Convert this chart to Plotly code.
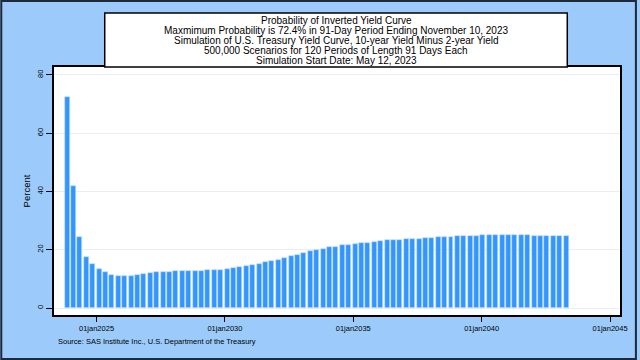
import pandas as pd
import plotly.graph_objects as go

# ---- data ----
period_start = "2023-11-10"   # end date of first plotted 91-day period
period_days = 91
probability = [
    72.4, 41.7, 24.2, 17.5, 15.0, 13.5, 12.3, 11.4, 11.0, 10.85,
    11.0, 11.3, 11.6, 11.9, 12.2, 12.3, 12.45, 12.6, 12.6, 12.7,
    12.7, 12.7, 12.9, 12.9, 13.1, 13.5, 13.7, 14.1, 14.4, 14.75,
    15.1, 15.65, 16.1, 16.6, 17.15, 17.7, 18.3, 18.85, 19.4, 19.9,
    20.35, 20.8, 21.1, 21.5, 21.7, 22.0, 22.2, 22.45, 22.75, 22.97,
    23.2, 23.3, 23.4, 23.55, 23.66, 23.8, 23.95, 24.05, 24.2, 24.35,
    24.46, 24.57, 24.69, 24.8, 24.85, 24.9, 24.95, 25.0, 25.0, 25.0,
    25.0, 24.95, 24.9, 24.85, 24.8, 24.75, 24.7, 24.65, 24.6,
]
period_end = pd.date_range(period_start, periods=len(probability), freq=f"{period_days}D")

tick_dates = ["2025-01-01", "2030-01-01", "2035-01-01", "2040-01-01", "2045-01-01"]
tick_text = ["01jan2025", "01jan2030", "01jan2035", "01jan2040", "01jan2045"]
y_ticks = [0, 20, 40, 60, 80]

title_lines = [
    "Probability of Inverted Yield Curve",
    "Maxmimum Probability is 72.4% in 91-Day Period Ending November 10, 2023",
    "Simulation of U.S. Treasury Yield Curve, 10-year Yield Minus 2-year Yield",
    "500,000 Scenarios for 120 Periods of Length 91 Days Each",
    "Simulation Start Date: May 12, 2023",
]
source_text = "Source: SAS Institute Inc., U.S. Department of the Treasury"

# ---- layout geometry (pixels) ----
W, H = 640, 360
L, R, T, B = 54, 17, 67, 45
pw, ph = W - L - R, H - T - B

def px(x):
    return (x - L) / pw

def py(y):
    return (H - B - y) / ph

FONT = "Liberation Sans, Arial, sans-serif"
BG = "#9ccbfb"

fig = go.Figure()
fig.add_trace(go.Bar(
    x=period_end, y=probability,
    width=71 * 86400000,
    marker=dict(color="#3396ff", line=dict(color="#c9e1fb", width=0.6)),
    hoverinfo="x+y",
))

shapes = [
    # title box
    dict(type="rect", xref="paper", yref="paper",
         x0=px(105), x1=px(570), y0=py(67), y1=py(13),
         fillcolor="white", line=dict(color="black", width=1.5), layer="above"),
    # outer border
    dict(type="rect", xref="paper", yref="paper",
         x0=px(1), x1=px(639), y0=py(359), y1=py(1),
         line=dict(color="#1c2a3a", width=2), fillcolor="rgba(0,0,0,0)"),
]

annotations = []
for i, line in enumerate(title_lines):
    annotations.append(dict(
        text=line, xref="paper", yref="paper", x=px(337.5), y=py(20.5 + 10 * i),
        xanchor="center", yanchor="middle", showarrow=False,
        font=dict(family=FONT, size=10, color="black"),
    ))
annotations.append(dict(
    text=source_text, xref="paper", yref="paper", x=px(56), y=py(341),
    xanchor="left", yanchor="middle", showarrow=False,
    font=dict(family=FONT, size=7.5, color="black"),
))

fig.update_layout(
    width=W, height=H,
    margin=dict(l=L, r=R, t=T, b=B),
    paper_bgcolor=BG, plot_bgcolor="white",
    showlegend=False,
    bargap=0,
    shapes=shapes,
    annotations=annotations,
    font=dict(family=FONT, color="black"),
    xaxis=dict(
        type="date",
        range=["2023-05-07", "2045-05-22"],
        tickvals=tick_dates, ticktext=tick_text,
        ticks="outside", ticklen=5, tickwidth=1, tickcolor="black",
        tickfont=dict(size=7.5, color="black", family=FONT),
        showgrid=False, zeroline=False,
        showline=True, linecolor="black", linewidth=1.5, mirror=True,
    ),
    yaxis=dict(
        range=[-2.4, 82.7],
        tickvals=y_ticks,
        ticks="outside", ticklen=6, tickwidth=1, tickcolor="black",
        tickangle=-90,
        tickfont=dict(size=7.5, color="black", family=FONT),
        showgrid=True, gridcolor="#e9eef2", gridwidth=1,
        zeroline=False,
        showline=True, linecolor="black", linewidth=1.5, mirror=True,
        title=dict(text="Percent", font=dict(size=9.5, family=FONT), standoff=4),
    ),
)

fig.write_html(
    "out.html",
    config={"displayModeBar": False},
    post_script="document.body.style.margin='0';document.body.style.padding='0';"
                "document.documentElement.style.overflow='hidden';",
)
